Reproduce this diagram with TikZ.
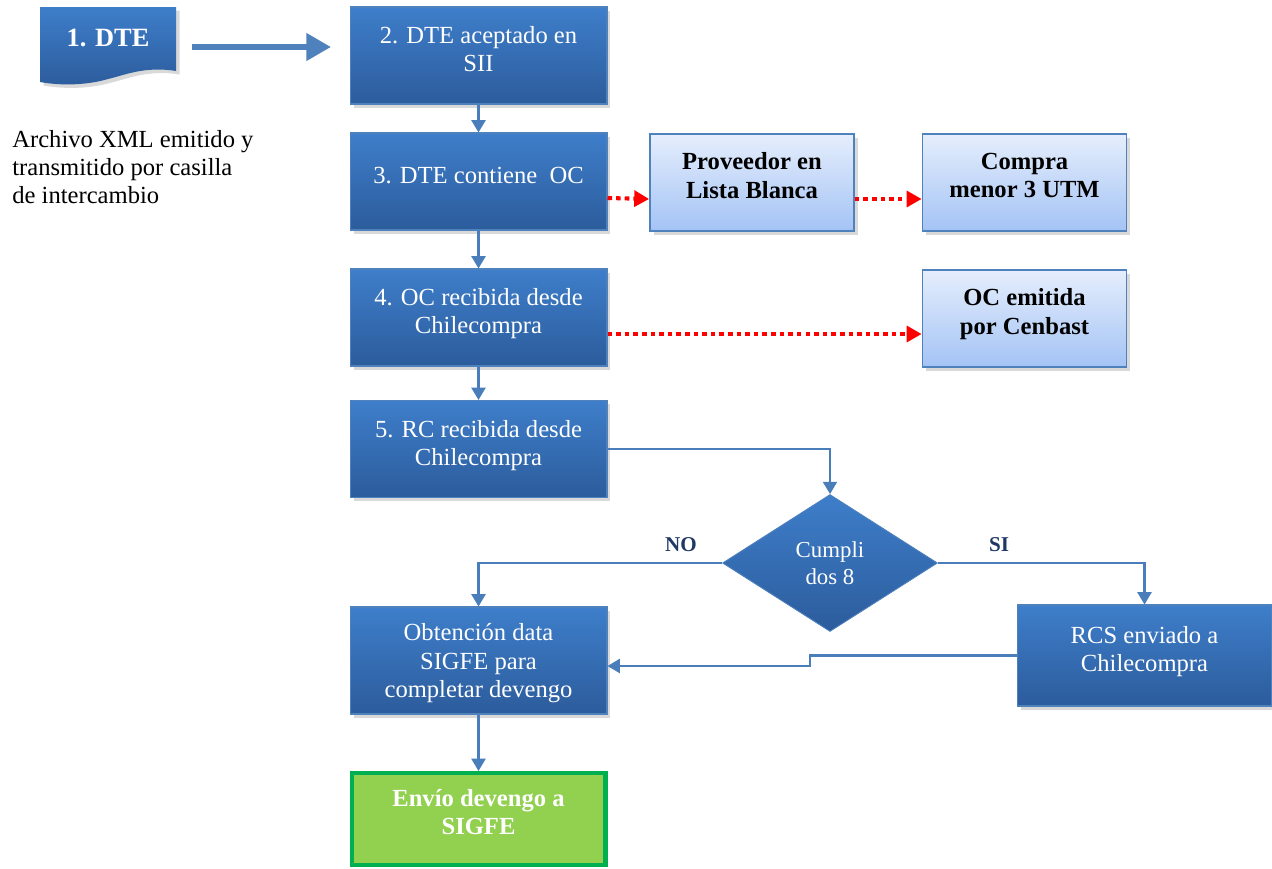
\documentclass[tikz,border=0pt]{standalone}
\usepackage{fontspec}
\setmainfont{Liberation Serif}
\usetikzlibrary{arrows.meta}
\usetikzlibrary{shapes.geometric}
\usetikzlibrary{shadows}
\usepackage{color}

\definecolor{boxtop}{RGB}{62,126,202}
\definecolor{boxbot}{RGB}{44,92,156}
\definecolor{boxedge}{RGB}{79,129,189}
\definecolor{lighttop}{RGB}{229,238,252}
\definecolor{lightbot}{RGB}{164,195,245}
\definecolor{linkblue}{RGB}{74,126,187}
\definecolor{labelnavy}{RGB}{31,56,100}
\definecolor{sendfill}{RGB}{146,208,80}
\definecolor{sendedge}{RGB}{0,176,80}

\begin{document}
\begin{tikzpicture}[x=0.02cm, y=-0.02cm,
        boxshadow/.style={drop shadow={opacity=0.3, shadow xshift=2pt, shadow yshift=-2pt}},
        stepbox/.style={rectangle, draw=boxedge, line width=0.6pt, top color=boxtop, bottom color=boxbot,
            text=white, minimum width=5.14cm, minimum height=1.94cm, align=center, text depth=7pt,
            font=\fontsize{14}{16}\selectfont, boxshadow},
        litebox/.style={rectangle, draw=boxedge, line width=1pt, top color=lighttop, bottom color=lightbot,
            text=black, minimum width=4.08cm, minimum height=1.94cm, align=center, text depth=8pt,
            font=\fontsize{14}{16}\selectfont\bfseries, boxshadow},
        sendbox/.style={rectangle, draw=sendedge, line width=2.3pt, fill=sendfill, text=white,
            minimum width=5.08cm, minimum height=1.84cm, align=center, text depth=8.5pt,
            font=\fontsize{14}{16}\selectfont\bfseries},
        choice/.style={diamond, draw=boxedge, line width=0.5pt, top color=boxtop, bottom color=boxbot,
            text=white, minimum width=4.3cm, minimum height=2.74cm, inner sep=0pt, align=center,
            font=\fontsize{13}{15.5}\selectfont},
        link/.style={draw=linkblue, line width=1.2pt, -{Triangle[width=8pt,length=7pt]}},
        redlink/.style={draw=red, line width=2.3pt, dash pattern=on 2.6pt off 2.3pt,
            -{Triangle[width=9pt,length=8.5pt]}},
        bigarrow/.style={draw=boxedge, line width=3.4pt, -{Triangle[width=15pt,length=14pt]}},
        branch/.style={text=labelnavy, font=\fontsize{12}{14}\selectfont\bfseries}]
            \useasboundingbox (0,0) rectangle (1272,869);

            % document symbol for the DTE
            \shade[top color=boxtop, bottom color=boxbot, boxshadow]
                (40,7) -- (176,7) -- (176,71) .. controls (145,66) and (125,75) .. (108,79)
                .. controls (88,85) and (62,86) .. (40,82) -- cycle;
            \node[text=white, font=\fontsize{15}{18}\selectfont\bfseries] (A) at (108,38) {1. DTE};
            \node[anchor=north west, inner sep=0pt, align=left, font=\fontsize{14}{15.9}\selectfont] (N) at (12,130)
                {Archivo XML emitido y\\transmitido por casilla\\de intercambio};

            \node[stepbox] (B) at (478.5,55.5) {2. DTE aceptado en\\SII};
            \node[stepbox] (C) at (478.5,181.5) {3. DTE contiene\ \ OC};
            \node[stepbox] (D) at (478.5,317.5) {4. OC recibida desde\\Chilecompra};
            \node[stepbox] (E) at (478.5,449) {5. RC recibida desde\\Chilecompra};
            \node[choice] (F) at (830,563) {Cumpli\\dos 8};
            \node[stepbox, minimum height=2.14cm, text depth=0pt] (G) at (478.5,660.5) {Obtenci\'on data\\SIGFE para\\completar devengo};
            \node[sendbox] (H) at (478.5,819) {Env\'io devengo a\\SIGFE};
            \node[stepbox, minimum width=5.08cm, minimum height=2.02cm] (I) at (1144.5,655.5) {RCS enviado a\\Chilecompra};

            \node[litebox] (P) at (752,182.5) {Proveedor en\\Lista Blanca};
            \node[litebox] (Q) at (1024.5,182.5) {Compra\\menor 3 UTM};
            \node[litebox] (R) at (1024.5,318.5) {OC emitida\\por Cenbast};

            \node[branch] (no) at (681,545) {NO};
            \node[branch] (si) at (999,545) {SI};

            \coordinate (tail) at (192,47);
            \coordinate (tip) at (331,47);
            \coordinate (bend) at (810,666);

            \draw[bigarrow] (tail) -- (tip);
            \draw[link] (B) -- (C);
            \draw[link] (C) -- (D);
            \draw[link] (D) -- (E);
            \draw[link] (E.east) -| (F.north);
            \draw[link] (F.west) -| (G.north);
            \draw[link] (F.east) -| (I.north);
            \draw[link] (I.west) -| (bend) -- (bend -| G.east);
            \draw[link] (G) -- (H);

            \draw[redlink] ([yshift=-0.33cm]C.east) -- ([yshift=-0.33cm]P.west);
            \draw[redlink] ([yshift=-0.33cm]P.east) -- ([yshift=-0.33cm]Q.west);
            \draw[redlink] ([yshift=-0.33cm]D.east) -- ([yshift=-0.31cm]R.west);
        \end{tikzpicture}
\end{document}
